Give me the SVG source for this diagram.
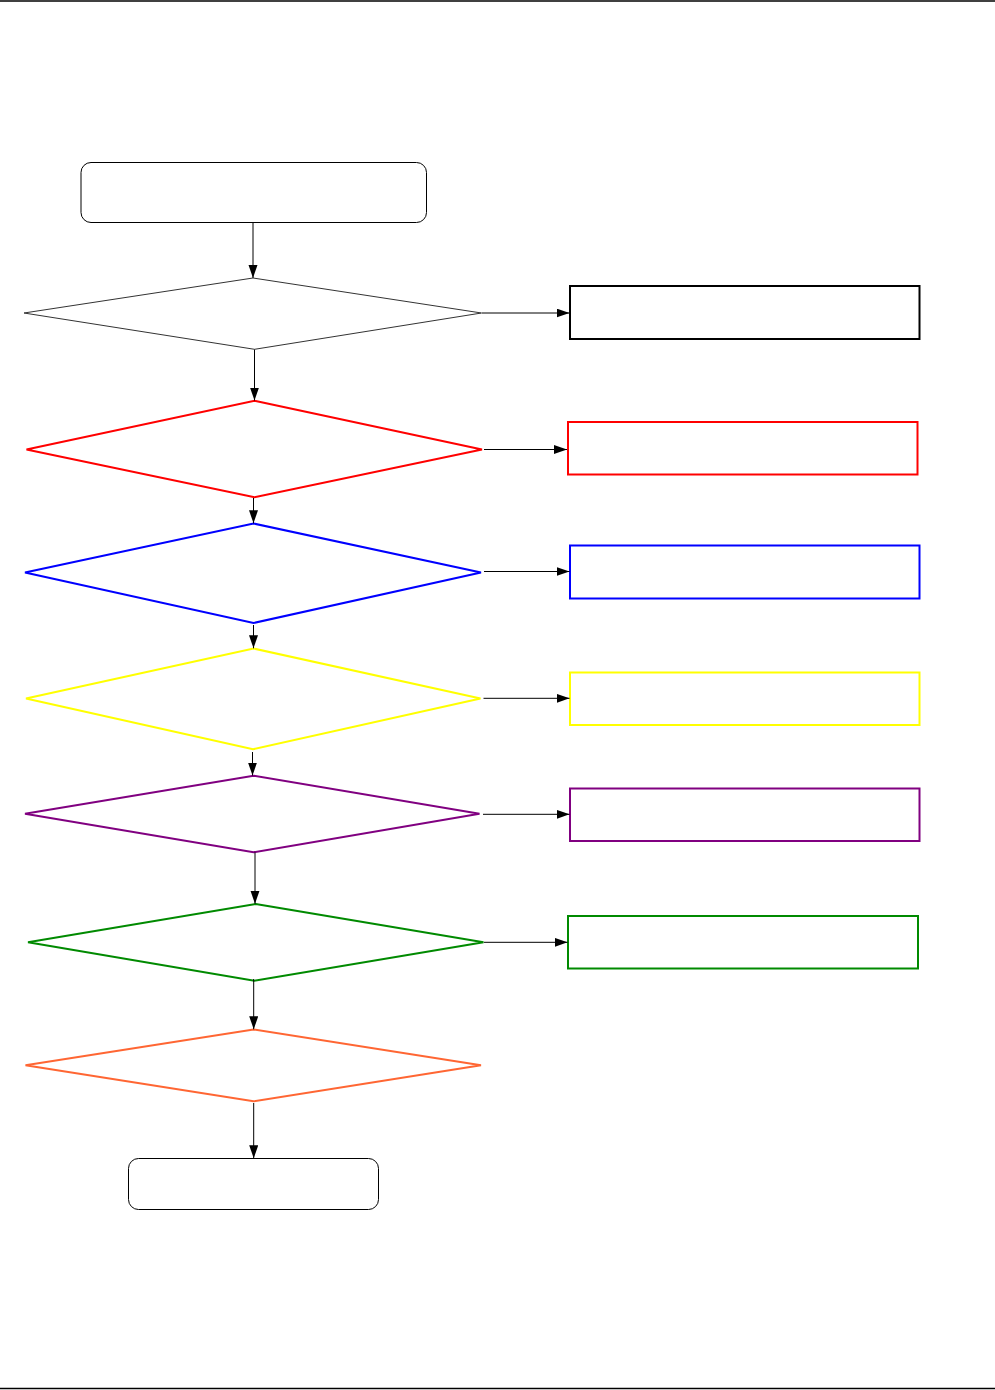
<svg xmlns="http://www.w3.org/2000/svg" width="995" height="1390" viewBox="0 0 995 1390">
<style>
.rule{stroke:#000;stroke-width:1.5;fill:none}
.term{fill:#fff;stroke:#000;stroke-width:1}
.dec{fill:#fff;stroke-width:2;stroke-linejoin:miter}
.box{fill:#fff;stroke-width:2}
.conn{stroke:#000;stroke-width:1;fill:none}
</style>
<defs>
<marker id="ah" markerUnits="userSpaceOnUse" markerWidth="14" markerHeight="10" refX="13" refY="4.5" orient="auto">
<path d="M0,0 L13,4.5 L0,9 z" fill="#000"/>
</marker>
</defs>
<rect width="995" height="1390" fill="#fff"/>
<line class="rule" x1="0" y1="1" x2="995" y2="1"/>
<line class="rule" x1="0" y1="1388.5" x2="995" y2="1388.5"/>

<g id="start"><rect class="term" x="81" y="162.5" width="345.5" height="60" rx="10"/></g>
<g id="d1"><polygon class="dec" style="stroke:#333;stroke-width:1" points="253,278 481.5,313 254.5,349.3 24,313"/></g>
<g id="b1"><rect class="box" style="stroke:#000" x="570" y="286" width="349.5" height="53"/></g>
<g id="d2"><polygon class="dec" style="stroke:#FF0000" points="254.5,400.7 482,449.5 254.5,497.3 26.5,449.5"/></g>
<g id="b2"><rect class="box" style="stroke:#FF0000" x="568" y="422" width="349.5" height="52.5"/></g>
<g id="d3"><polygon class="dec" style="stroke:#0000FF" points="253.5,523.5 481,572.5 253.5,623 25,572.5"/></g>
<g id="b3"><rect class="box" style="stroke:#0000FF" x="570" y="545.5" width="349.5" height="53"/></g>
<g id="d4"><polygon class="dec" style="stroke:#FFFF00" points="253.5,648.5 480.5,698.5 253,749.3 26,698.5"/></g>
<g id="b4"><rect class="box" style="stroke:#FFFF00" x="570" y="672.5" width="349.5" height="52.5"/></g>
<g id="d5"><polygon class="dec" style="stroke:#800080" points="253.5,775.7 479.5,813.7 253.5,852.3 25,813.7"/></g>
<g id="b5"><rect class="box" style="stroke:#800080" x="570" y="788.5" width="349.5" height="52.5"/></g>
<g id="d6"><polygon class="dec" style="stroke:#008A00" points="255.7,904 483.5,942.3 254.3,980.7 28,942.3"/></g>
<g id="b6"><rect class="box" style="stroke:#008A00" x="568" y="916" width="350" height="52.5"/></g>
<g id="d7"><polygon class="dec" style="stroke:#FF6633" points="253.5,1029.5 481,1065.3 253.5,1101.3 25.5,1065.3"/></g>
<g id="end"><rect class="term" x="128.5" y="1158.5" width="250" height="51" rx="10"/></g>

<g id="connectors">
<line class="conn" x1="253" y1="222.5" x2="253" y2="278" marker-end="url(#ah)"/>
<line class="conn" x1="482" y1="313" x2="569.5" y2="313" marker-end="url(#ah)"/>
<line class="conn" x1="254.5" y1="349.5" x2="254.5" y2="400.5" marker-end="url(#ah)"/>
<line class="conn" x1="484" y1="449.5" x2="567" y2="449.5" marker-end="url(#ah)"/>
<line class="conn" x1="253.5" y1="498" x2="253.5" y2="523.3" marker-end="url(#ah)"/>
<line class="conn" x1="484" y1="571.5" x2="569.5" y2="571.5" marker-end="url(#ah)"/>
<line class="conn" x1="253.5" y1="625" x2="253.5" y2="648.3" marker-end="url(#ah)"/>
<line class="conn" x1="483.5" y1="698.3" x2="569.5" y2="698.3" marker-end="url(#ah)"/>
<line class="conn" x1="252.5" y1="752" x2="252.5" y2="775.5" marker-end="url(#ah)"/>
<line class="conn" x1="483" y1="814.3" x2="569.5" y2="814.3" marker-end="url(#ah)"/>
<line class="conn" x1="255" y1="852.5" x2="255" y2="903.8" marker-end="url(#ah)"/>
<line class="conn" x1="484" y1="942.3" x2="567.5" y2="942.3" marker-end="url(#ah)"/>
<line class="conn" x1="253.7" y1="979" x2="253.7" y2="1029.3" marker-end="url(#ah)"/>
<line class="conn" x1="253.7" y1="1103" x2="253.7" y2="1158.3" marker-end="url(#ah)"/>
</g>
</svg>
